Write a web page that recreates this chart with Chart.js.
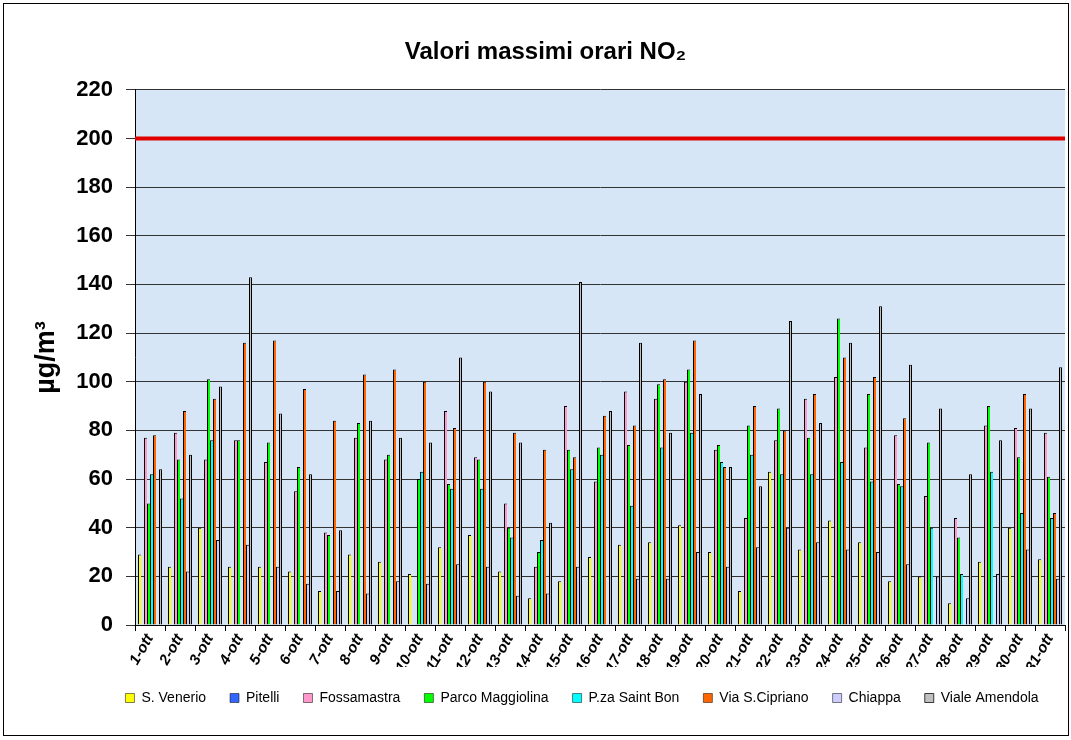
<!DOCTYPE html>
<html><head><meta charset="utf-8">
<script src="https://cdn.jsdelivr.net/npm/chart.js@4"></script>
<style>html,body{margin:0;padding:0;background:#fff}#wrap{width:1071px;height:740px;position:relative}</style>
</head><body><div id="wrap"><canvas id="c"></canvas></div>
<script>
const days = ['1-ott','2-ott','3-ott','4-ott','5-ott','6-ott','7-ott','8-ott','9-ott','10-ott','11-ott','12-ott','13-ott','14-ott','15-ott','16-ott','17-ott','18-ott','19-ott','20-ott','21-ott','22-ott','23-ott','24-ott','25-ott','26-ott','27-ott','28-ott','29-ott','30-ott','31-ott'];
const sVenerio     = [29,24,40,24,24,22,14,29,26,21,32,37,22,11,18,28,33,34,41,30,14,63,31,43,34,18,20,9,26,40,27];
const pitelli      = [null,null,null,null,null,null,null,null,null,null,null,null,null,null,null,null,null,null,null,null,null,null,null,null,null,null,null,null,null,null,null];
const fossamastra  = [77,79,68,76,67,55,38,77,68,null,88,69,50,24,90,59,96,93,100,72,44,76,93,102,73,78,53,44,82,81,79];
const maggiolina   = [50,68,101,76,75,65,37,83,70,60,58,68,40,30,72,73,74,99,105,74,82,89,77,126,95,58,75,36,90,69,61];
const saintBon     = [62,52,76,null,null,null,null,null,null,63,56,56,36,35,64,70,49,73,79,67,70,62,62,67,59,57,40,21,63,46,44];
const sCipriano    = [78,88,93,116,117,97,84,103,105,100,81,100,79,72,69,86,82,101,117,65,90,80,95,110,102,85,null,null,null,95,46];
const chiappa      = [null,22,35,33,24,17,14,13,18,17,25,24,12,13,24,null,19,19,30,24,32,40,34,31,30,25,20,11,21,31,19];
const amendola     = [64,70,98,143,87,62,39,84,77,75,110,96,75,42,141,88,116,79,95,65,57,125,83,116,131,107,89,62,76,89,106];
const limitValue   = 200;
const yTicks       = {min:0, max:220, step:20};

const seriesNames  = ['S. Venerio','Pitelli','Fossamastra','Parco Maggiolina','P.za Saint Bon','Via S.Cipriano','Chiappa','Viale Amendola'];
const seriesData   = [sVenerio,pitelli,fossamastra,maggiolina,saintBon,sCipriano,chiappa,amendola];
const seriesColors = ['#ffff00','#3366ff','#ff99cc','#00ff00','#00ffff','#ff6600','#ccccff','#c0c0c0'];

const FONT = "'Liberation Sans', Arial, sans-serif";

const datasets = seriesNames.map((n,i)=>({
  label:n, data:seriesData[i],
  backgroundColor:seriesColors[i], borderColor:'#000',
  borderWidth:{top:1, left:1, right:(i===seriesNames.length-1?1:0), bottom:0},
  barPercentage:1.0, categoryPercentage:0.8
}));

const bgPlugin = {
  id:'bg',
  beforeDraw(chart){
    const {ctx, chartArea:a} = chart;
    ctx.save();
    ctx.fillStyle = '#d6e6f6';
    ctx.fillRect(a.left, a.top, a.right-a.left, a.bottom-a.top);
    ctx.restore();
  },
  afterDatasetsDraw(chart){
    const {ctx, chartArea:a, scales:{y}} = chart;
    const py = y.getPixelForValue(limitValue);
    ctx.save();
    ctx.strokeStyle = '#e00000'; ctx.lineWidth = 4;
    ctx.beginPath(); ctx.moveTo(a.left, py); ctx.lineTo(a.right, py); ctx.stroke();
    ctx.restore();
  },
  afterDraw(chart){
    const ctx = chart.ctx;
    ctx.save();
    ctx.strokeStyle = '#000'; ctx.lineWidth = 1;
    ctx.strokeRect(3.5, 3.5, 1065, 732);
    ctx.restore();
  }
};
const legendShift = {
  id:'legendShift',
  afterLayout(chart){
    const lg = chart.legend; if(!lg) return;
    const dx = 582 - (lg.left + lg.right)/2;
    lg.left += dx; lg.right += dx;
  }
};

new Chart(document.getElementById('c'), {
  type:'bar',
  data:{labels:days, datasets},
  options:{
    responsive:true, maintainAspectRatio:false, animation:false,
    layout:{padding:{left:26, right:6, top:0, bottom:25}},
    plugins:{
      title:{display:true, text:'Valori massimi orari NO₂', color:'#000',
        font:{family:FONT, size:24, weight:'bold'}, padding:{top:38, bottom:23}},
      legend:{position:'bottom',
        labels:{color:'#000', boxWidth:9, boxHeight:9, padding:24,
          font:{family:FONT, size:14}}},
      tooltip:{enabled:false}
    },
    scales:{
      x:{type:'category', offset:true,
        afterFit(s){ s.height -= 8.4; },
        grid:{offset:true, drawOnChartArea:false, color:'#000', tickLength:6},
        border:{color:'#000', width:1},
        ticks:{autoSkip:false, minRotation:60, maxRotation:60, color:'#000', padding:0,
          font:{family:FONT, size:15, weight:'bold', style:'italic'}}},
      y:{min:yTicks.min, max:yTicks.max,
        afterFit(s){ s.width = 109; },
        ticks:{stepSize:yTicks.step, color:'#000', padding:13, font:{family:FONT, size:22, weight:'bold'}},
        grid:{color:'#333', lineWidth:1, tickLength:9},
        border:{color:'#000', width:1},
        title:{display:true, text:'µg/m³', color:'#000', font:{family:FONT, size:27, weight:'bold'}}}
    }
  },
  plugins:[bgPlugin, legendShift]
});
</script>
</body></html>
